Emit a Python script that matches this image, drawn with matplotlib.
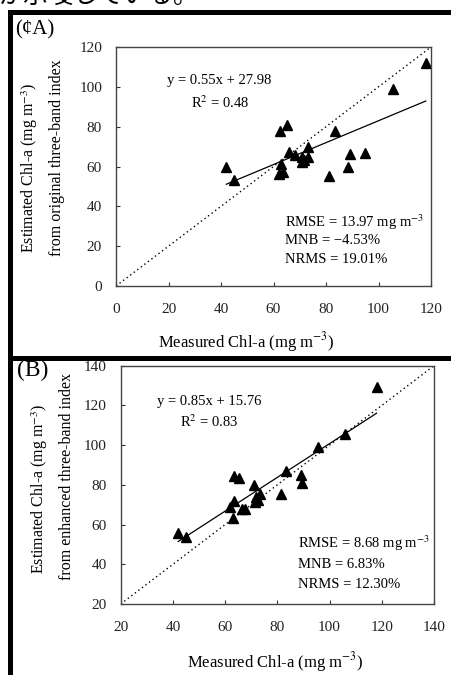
import matplotlib
matplotlib.use("Agg")
import matplotlib.pyplot as plt
from matplotlib.patches import Rectangle

plt.rcParams["font.family"] = ["Liberation Serif", "Noto Sans CJK JP"]
plt.rcParams["mathtext.fontset"] = "stix"

W, H = 452, 675

# Panel A: measured vs estimated (original three-band index)
a_measured = [42, 45, 62, 62.5, 63, 63.5, 65, 66, 68, 71, 71, 71.5, 73, 73,
              81, 83.5, 88.5, 89, 95, 105.5, 118]
a_estimated = [59.5, 53, 56, 78, 61.5, 57, 81, 67.5, 66, 65, 62.5, 63.5, 70, 65,
               55, 78, 60, 66.5, 67, 99, 112]
a_fit = (0.55, 27.98)

# Panel B: measured vs estimated (enhanced three-band index)
b_measured = [42, 45, 62, 63, 63.5, 63.5, 65.5, 66.5, 67.5, 71, 71.5, 72, 72.5,
              73.5, 81.5, 83.5, 89, 89.5, 95.5, 106, 118]
b_estimated = [56, 53.5, 69, 63.5, 72, 84.5, 83.5, 68, 68, 80, 71.5, 74, 72.5,
               75.5, 75.5, 87, 85, 81, 99, 105.5, 129.5]
b_fit = (0.85, 15.76)

ticks_a = [0, 20, 40, 60, 80, 100, 120]
ticks_b = [20, 40, 60, 80, 100, 120, 140]


def fx(px):
    return px / W


def fy(py):
    return 1 - py / H


def draw_panel(ax, xs, ys, fit, ticks, eq_pos, r2_pos, r2, stats, stats_pos):
    lo, hi = ticks[0], ticks[-1]
    ax.plot([lo, hi], [lo, hi], color="black", linestyle=(0, (1, 2.2)), linewidth=1)
    x0, x1 = min(xs), max(xs)
    ax.plot([x0, x1], [fit[0] * x0 + fit[1], fit[0] * x1 + fit[1]],
            color="black", linewidth=0.9)
    ax.plot(xs, ys, linestyle="none", marker="^", markersize=7.5, color="black")
    ax.set_xlim(lo, hi)
    ax.set_ylim(lo, hi)
    ax.set_xticks(ticks)
    ax.set_yticks(ticks)
    ax.tick_params(direction="in", length=3, width=0.8, labelsize=11,
                   colors="#333333", labelcolor="#222222")
    ax.tick_params(axis="x", pad=12)
    ax.tick_params(axis="y", pad=10)
    for s in ax.spines.values():
        s.set_color("#444444")
        s.set_linewidth(1)

    ax.text(eq_pos[0], eq_pos[1], f"y = {fit[0]:.2f}x + {fit[1]:.2f}",
            transform=ax.transAxes, fontsize=10.5, ha="left", va="center")
    ax.text(r2_pos[0], r2_pos[1], f"R$^{{2}}$ = {r2}",
            transform=ax.transAxes, fontsize=10.5, ha="center", va="center")
    for i, line in enumerate(stats):
        ax.text(stats_pos[0], stats_pos[1][i], line, transform=ax.transAxes,
                fontsize=10.5, ha="left", va="center")


def main():
    fig = plt.figure(figsize=(W / 100, H / 100), dpi=100)

    ax_a = fig.add_axes([fx(116), fy(286), (431 - 116) / W, (286 - 47) / H])
    draw_panel(ax_a, a_measured, a_estimated, a_fit, ticks_a,
               (0.161, 0.861), (0.33, 0.766), "0.48",
               ["RMSE = 13.97 mg m$^{-3}$", "MNB = \u22124.53%", "NRMS = 19.01%"],
               (0.537, [0.269, 0.19, 0.109]))

    ax_b = fig.add_axes([fx(120.7), fy(604), (434 - 120.7) / W, (604 - 365.7) / H])
    draw_panel(ax_b, b_measured, b_estimated, b_fit, ticks_b,
               (0.115, 0.849), (0.283, 0.765), "0.83",
               ["RMSE = 8.68 mg m$^{-3}$", "MNB = 6.83%", "NRMS = 12.30%"],
               (0.567, [0.255, 0.167, 0.083]))

    # axis titles
    fig.text(fx(246), fy(341.7), "Measured Chl-a (mg m$^{-3}$)",
             fontsize=12, ha="center", va="center")
    fig.text(fx(275), fy(662), "Measured Chl-a (mg m$^{-3}$)",
             fontsize=12, ha="center", va="center")
    fig.text(fx(30), fy(168), "Estimated Chl-a (mg m$^{-3}$)",
             fontsize=11.5, rotation=90, ha="center", va="center")
    fig.text(fx(56.7), fy(157.5), "from original three-band index",
             fontsize=11.5, rotation=90, ha="center", va="center")
    fig.text(fx(40), fy(489), "Estimated Chl-a (mg m$^{-3}$)",
             fontsize=11.5, rotation=90, ha="center", va="center")
    fig.text(fx(66.7), fy(476), "from enhanced three-band index",
             fontsize=11.5, rotation=90, ha="center", va="center")

    # panel tags
    fig.text(fx(15), fy(30), "(\u00a2A)", fontsize=15, ha="left", va="center")
    fig.text(fx(17), fy(370), "(B)", fontsize=17, ha="left", va="center")

    # page text cut off at the top, as in the scanned page
    fig.text(fx(-2), fy(-4), "が示唆している。", fontsize=18,
             family=["Noto Sans CJK JP"], ha="left", va="center")

    # black frame of the scanned figure
    for (x, y, w, h) in [(8, 10, 444, 4.5), (8, 10, 5, 665), (8, 356, 444, 4.5)]:
        fig.add_artist(Rectangle((fx(x), fy(y + h)), w / W, h / H,
                                 transform=fig.transFigure, color="black", lw=0))

    fig.savefig("out.png", dpi=100)


if __name__ == "__main__":
    main()
